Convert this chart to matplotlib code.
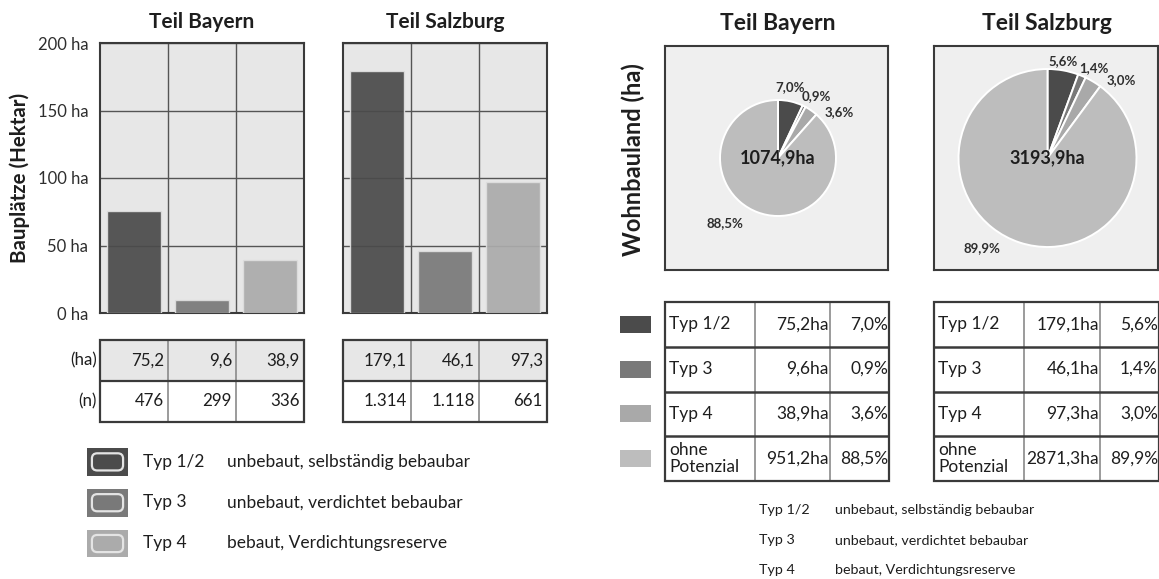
import numpy as np
import matplotlib
matplotlib.use("Agg")
import matplotlib.pyplot as plt
from matplotlib.patches import Rectangle, FancyBboxPatch

plt.rcParams['font.family'] = ['Lato', 'DejaVu Sans']

# ---------------- data ----------------
regions = ["Teil Bayern", "Teil Salzburg"]
types = ["Typ 1/2", "Typ 3", "Typ 4"]
type_desc = ["unbebaut, selbständig bebaubar",
             "unbebaut, verdichtet bebaubar",
             "bebaut, Verdichtungsreserve"]

bayern_ha = [75.2, 9.6, 38.9]
salzburg_ha = [179.1, 46.1, 97.3]
bayern_n = [476, 299, 336]
salzburg_n = [1314, 1118, 661]

land_labels = ["Typ 1/2", "Typ 3", "Typ 4", "ohne\nPotenzial"]
bayern_land_ha = [75.2, 9.6, 38.9, 951.2]
salzburg_land_ha = [179.1, 46.1, 97.3, 2871.3]
bayern_land_pct = [7.0, 0.9, 3.6, 88.5]
salzburg_land_pct = [5.6, 1.4, 3.0, 89.9]
land_totals = [1074.9, 3193.9]

y_ticks = [0, 50, 100, 150, 200]

# ---------------- styling ----------------
W, H = 1159, 579
bar_colors = ["#4b4b4b", "#797979", "#ababab"]
pie_colors = ["#4b4b4b", "#797979", "#a9a9a9", "#bdbdbd"]
frame_col = "#3a3a3a"
grid_col = "#555555"
txt_col = "#1e1e1e"


def de(v, nd=1):
    return f"{v:.{nd}f}".replace(".", ",")


def de_int(v):
    return f"{v:,}".replace(",", ".")


fig = plt.figure(figsize=(W / 100, H / 100), dpi=100)
fig.patch.set_facecolor("white")


def px_axes(x0, y0, x1, y1):
    return fig.add_axes([x0 / W, 1 - y1 / H, (x1 - x0) / W, (y1 - y0) / H])


def fig_text(x, y, s, **kw):
    fig.text(x / W, 1 - y / H, s, **kw)


def frame(ax, lw=1.5):
    for sp in ax.spines.values():
        sp.set_color(frame_col)
        sp.set_linewidth(lw)


# ---------------- bar charts ----------------
bar_boxes = [(100, 304), (343, 547)]
bar_top, bar_bot = 43, 313
for k, (vals, (x0, x1)) in enumerate(zip([bayern_ha, salzburg_ha], bar_boxes)):
    ax = px_axes(x0, bar_top, x1, bar_bot)
    ax.set_facecolor("#e7e7e7")
    ax.bar(range(len(vals)), vals, width=0.78, color=bar_colors,
           edgecolor="#dedede", linewidth=1.0, alpha=0.93, zorder=3)
    ax.set_xlim(-0.5, len(vals) - 0.5)
    ax.set_ylim(0, 200)
    ax.set_yticks(y_ticks)
    ax.set_yticklabels([f"{t} ha" for t in y_ticks] if k == 0 else [])
    ax.set_xticks([])
    ax.set_xticks([i + 0.5 for i in range(len(vals) - 1)], minor=True)
    ax.tick_params(axis="both", which="both", length=0, labelsize=12,
                   labelcolor="#2e2e2e", pad=8.5)
    ax.grid(axis="y", which="major", color=grid_col, lw=1.0, zorder=1)
    ax.grid(axis="x", which="minor", color=grid_col, lw=1.0, zorder=1)
    ax.set_axisbelow(True)
    frame(ax)
    fig_text((x0 + x1) / 2, 22, regions[k], ha="center", va="center",
             fontsize=15, fontweight="bold", color=txt_col)

fig_text(20, 178, "Bauplätze (Hektar)", rotation=90, ha="center", va="center",
         fontsize=14.8, fontweight="bold", color=txt_col)

# ---------------- tables below bar charts ----------------
tab_top, tab_bot = 340, 422
for k, (ha, n, (x0, x1)) in enumerate(zip([bayern_ha, salzburg_ha],
                                          [bayern_n, salzburg_n], bar_boxes)):
    ax = px_axes(x0, tab_top, x1, tab_bot)
    ncol = len(ha)
    ax.set_xlim(-0.5, ncol - 0.5)
    ax.set_ylim(2, 0)
    ax.axis("off")
    ax.add_patch(Rectangle((-0.5, 0), ncol, 1, facecolor="#e7e7e7",
                           edgecolor="none", zorder=0))
    for i in range(1, ncol):
        ax.plot([i - 0.5, i - 0.5], [0, 2], color="#8a8a8a", lw=1.2, zorder=2)
    ax.plot([-0.5, ncol - 0.5], [1, 1], color=frame_col, lw=1.6, zorder=3)
    ax.add_patch(Rectangle((-0.5, 0), ncol, 2, facecolor="none",
                           edgecolor=frame_col, lw=1.6, zorder=4, clip_on=False))
    rows = [[de(v) for v in ha], [de_int(v) for v in n]]
    for r, row in enumerate(rows):
        for c, s in enumerate(row):
            ax.text(c + 0.44, r + 0.5, s, ha="right", va="center",
                    fontsize=12.2, color=txt_col)
    if k == 0:
        for r, lab in enumerate(["(ha)", "(n)"]):
            ax.text(-0.55, r + 0.5, lab, ha="right", va="center",
                    fontsize=12.2, color=txt_col)

# ---------------- left legend ----------------
leg_ax = px_axes(87, 448, 128, 557)
leg_ax.set_xlim(0, 1)
leg_ax.set_ylim(len(types) - 0.33, 0)
leg_ax.axis("off")
sw_h = 0.68
for i, col in enumerate(bar_colors):
    leg_ax.add_patch(Rectangle((0, i), 1, sw_h, facecolor=col,
                               edgecolor="none"))
    leg_ax.add_patch(FancyBboxPatch((0.12, i + 0.13), 0.76, sw_h - 0.26,
                                    boxstyle="round,pad=0,rounding_size=0.13",
                                    facecolor=col, edgecolor="#e4e4e4",
                                    lw=1.6, mutation_aspect=1.0))
for i, (t, d) in enumerate(zip(types, type_desc)):
    yc = 462 + 40.5 * i
    fig_text(143, yc, t, ha="left", va="center", fontsize=12.5, color=txt_col)
    fig_text(227, yc, d, ha="left", va="center", fontsize=12.5, color=txt_col)

# ---------------- pie charts ----------------
pie_boxes = [(665, 888), (934, 1158)]
pie_top, pie_bot = 46, 270
pie_radius = [58, 89]
# label placement: (angle in degrees, distance as multiple of radius)
pct_label_pos = [
    [(80, 1.24), (58, 1.26), (37, 1.32), (231, 1.45)],
    [(81, 1.10), (63, 1.14), (46.5, 1.20), (234, 1.25)],
]
for k, (vals, pcts, (x0, x1)) in enumerate(zip([bayern_land_ha, salzburg_land_ha],
                                                [bayern_land_pct, salzburg_land_pct],
                                                pie_boxes)):
    ax = px_axes(x0, pie_top, x1, pie_bot)
    ax.set_facecolor("#efefef")
    hw, hh = (x1 - x0) / 2, (pie_bot - pie_top) / 2
    r = pie_radius[k]
    ax.pie(vals, colors=pie_colors, startangle=90, counterclock=False,
           radius=r, center=(1.5, 0), frame=True,
           wedgeprops=dict(edgecolor="white", linewidth=1.4))
    ax.set_xlim(-hw, hw)
    ax.set_ylim(-hh, hh)
    ax.set_aspect("auto")
    ax.set_xticks([])
    ax.set_yticks([])
    frame(ax)
    for p, (ang, dist) in zip(pcts, pct_label_pos[k]):
        a = np.deg2rad(ang)
        ax.text(1.5 + r * dist * np.cos(a), r * dist * np.sin(a), de(p) + "%",
                ha="center", va="center", fontsize=9.5, fontweight="bold",
                color="#2e2e2e")
    ax.text(1.5, 0, de(land_totals[k]) + "ha", ha="center", va="center",
            fontsize=13, fontweight="bold", color=txt_col)
    fig_text((x0 + x1) / 2 + 1, 23, regions[k], ha="center", va="center",
             fontsize=16.5, fontweight="bold", color=txt_col)

fig_text(633, 160, "Wohnbauland (ha)", rotation=90, ha="center", va="center",
         fontsize=17, fontweight="bold", color=txt_col)

# ---------------- tables below pie charts ----------------
rt_top, rt_bot = 302, 481
col_edges = [0, 0.40, 0.737, 1.0]
for k, (vals, pcts, (x0, x1)) in enumerate(zip([bayern_land_ha, salzburg_land_ha],
                                                [bayern_land_pct, salzburg_land_pct],
                                                pie_boxes)):
    ax = px_axes(x0, rt_top, x1 + 1, rt_bot)
    nrow = len(vals)
    ax.set_xlim(0, 1)
    ax.set_ylim(nrow, 0)
    ax.axis("off")
    for e in col_edges[1:-1]:
        ax.plot([e, e], [0, nrow], color="#8a8a8a", lw=1.2, zorder=2)
    for r in range(1, nrow):
        ax.plot([0, 1], [r, r], color=frame_col, lw=1.8, zorder=3)
    ax.add_patch(Rectangle((0, 0), 1, nrow, facecolor="none",
                           edgecolor=frame_col, lw=1.6, zorder=4, clip_on=False))
    for r in range(nrow):
        ax.text(col_edges[0] + 0.018, r + 0.5, land_labels[r], ha="left",
                va="center", fontsize=12.5, color=txt_col, linespacing=1.05)
        ax.text(col_edges[2] - 0.005, r + 0.5, de(vals[r]) + "ha", ha="right",
                va="center", fontsize=12.5, color=txt_col)
        ax.text(col_edges[3] - 0.005, r + 0.5, de(pcts[r]) + "%", ha="right",
                va="center", fontsize=12.5, color=txt_col)

# colour keys beside the first table
key_ax = px_axes(620, rt_top, 651, rt_bot)
key_ax.set_xlim(0, 1)
key_ax.set_ylim(len(pie_colors), 0)
key_ax.axis("off")
kh = 0.38
for i, col in enumerate(pie_colors):
    key_ax.add_patch(Rectangle((0, i + 0.5 - kh / 2), 1, kh, facecolor=col,
                               edgecolor="none"))

# type descriptions under the pie tables
for i, (t, d) in enumerate(zip(types, type_desc)):
    yc = 510 + 30 * i
    fig_text(759, yc, t, ha="left", va="center", fontsize=10.3, color=txt_col)
    fig_text(835, yc, d, ha="left", va="center", fontsize=10.3, color=txt_col)

fig.savefig("out.png", dpi=100, facecolor="white")
